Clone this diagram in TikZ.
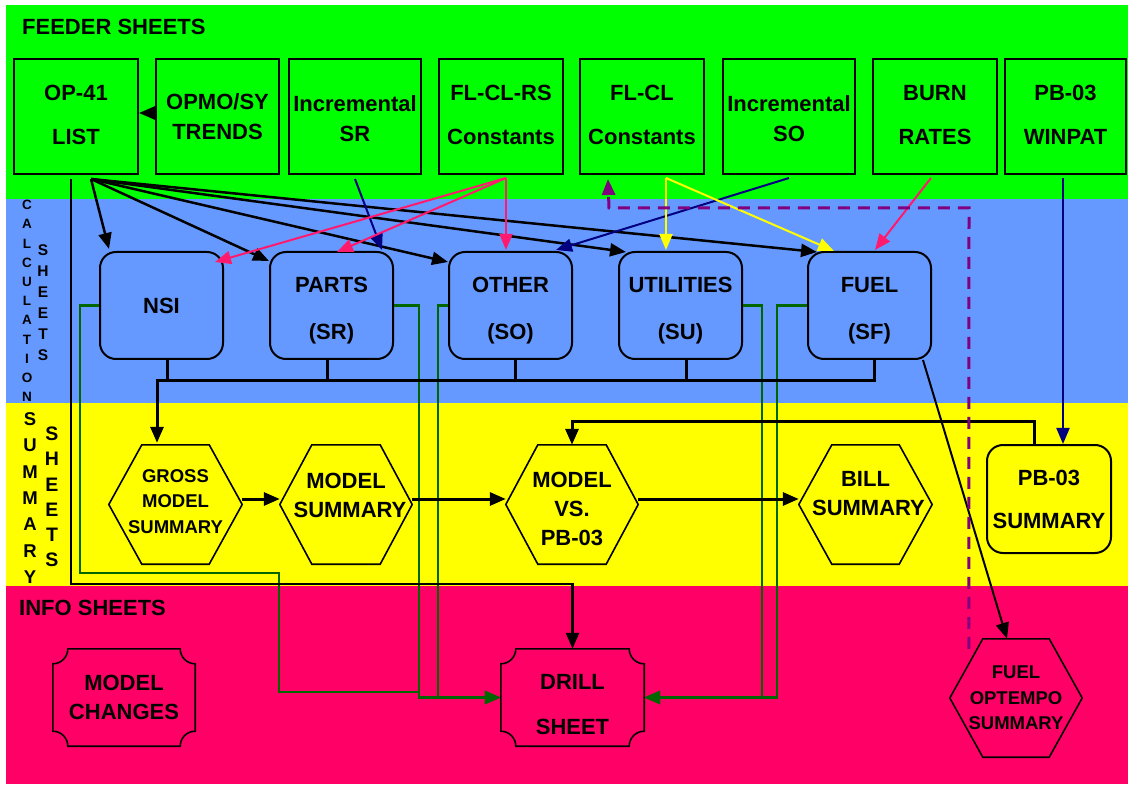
\documentclass[tikz,border=0pt]{standalone}
\usepackage{fontspec}
\setmainfont{Liberation Sans}
\usetikzlibrary{arrows.meta,calc}
\definecolor{bgreen}{HTML}{00FF00}
\definecolor{bblue}{HTML}{6699FF}
\definecolor{byellow}{HTML}{FFFF00}
\definecolor{bpink}{HTML}{FF0066}
\definecolor{navyc}{HTML}{000080}
\definecolor{dgreen}{HTML}{006600}
\definecolor{purp}{HTML}{800080}
\definecolor{apink}{HTML}{FF1A6E}
\definecolor{ayellow}{HTML}{FFFF00}
\newcommand\htt[1]{\rule{0pt}{#1}}
\newcommand\dpt[1]{\rule[-#1]{0pt}{#1}}
\newcommand\hexoutline[2]{\draw[line width=1.6pt] ([xshift=#2]#1.north west) -- ([xshift=-#2]#1.north east) -- (#1.east) -- ([xshift=-#2]#1.south east) -- ([xshift=#2]#1.south west) -- (#1.west) -- cycle;}
\newcommand\plaqueoutline[2]{\draw[line width=1.6pt] ([xshift=#2]#1.north west) -- ([xshift=-#2]#1.north east) arc[start angle=180,end angle=270,radius=#2] -- ([yshift=#2]#1.south east) arc[start angle=90,end angle=180,radius=#2] -- ([xshift=#2]#1.south west) arc[start angle=0,end angle=90,radius=#2] -- ([yshift=-#2]#1.north west) arc[start angle=270,end angle=360,radius=#2] -- cycle;}
\begin{document}
\begin{tikzpicture}[x=1pt,y=1pt,
 every node/.style={inner sep=0pt, align=center},
 arr/.style={-{Triangle[length=16pt,width=13pt]}},
 blk/.style={line width=2.5pt, draw=black},
 fbox/.style={draw, line width=2pt, fill=bgreen, minimum width=124pt, minimum height=115pt, font=\bfseries\fontsize{22}{44}\selectfont},
 fbox2/.style={fbox, font=\bfseries\fontsize{22}{30}\selectfont},
 cbox/.style={draw, line width=2pt, fill=bblue, rounded corners=16pt, minimum width=123pt, minimum height=107pt, font=\bfseries\fontsize{22}{47}\selectfont},
 hexn/.style={minimum width=132pt, minimum height=119pt, font=\bfseries\fontsize{22}{29}\selectfont},
 plq/.style={minimum width=142pt, minimum height=97pt, font=\bfseries\fontsize{22}{29}\selectfont},
 ttl/.style={font=\bfseries\fontsize{22}{26}\selectfont},
 grn/.style={draw=dgreen, line width=2.8pt},
 colarr/.style={line width=2pt, arr},
]
\useasboundingbox (0,0) rectangle (1128,-786);
% bands
\fill[bgreen] (6,-5) rectangle (1128,-199);
\fill[bblue] (6,-199) rectangle (1128,-403);
\fill[byellow] (6,-403) rectangle (1128,-586);
\fill[bpink] (6,-586) rectangle (1128,-784);
% titles
\node[ttl, anchor=base west] (tfeed) at (22,-35) {FEEDER SHEETS};
\node[ttl, anchor=base west] (tinfo) at (19,-615) {INFO SHEETS};
\node[font=\bfseries\fontsize{13.5}{19.2}\selectfont] (vcalc) at (27,-301) {C\\A\\L\\C\\U\\L\\A\\T\\I\\O\\N};
\node[font=\bfseries\fontsize{15.5}{21}\selectfont] (vcsh) at (43,-302.5) {S\\H\\E\\E\\T\\S};
\node[font=\bfseries\fontsize{18.5}{26.3}\selectfont] (vsum) at (30,-498) {S\\U\\M\\M\\A\\R\\Y};
\node[font=\bfseries\fontsize{19.5}{25.2}\selectfont] (vssh) at (52,-497) {S\\H\\E\\E\\T\\S};
% feeder boxes
\node[fbox] (op41) at (76,-116.5) {OP-41\\LIST\dpt{4pt}};
\node[fbox2, minimum width=123pt] (opmo) at (217.5,-116.5) {OPMO/SY\\TRENDS};
\node[fbox2, minimum width=132pt] (incsr) at (355,-116.5) {\htt{21pt}Incremental\\SR};
\node[fbox] (flclrs) at (501,-116.5) {FL-CL-RS\\Constants\dpt{4pt}};
\node[fbox] (flcl) at (642,-116.5) {FL-CL\\Constants\dpt{4pt}};
\node[fbox2, minimum width=132pt] (incso) at (789,-116.5) {\htt{21pt}Incremental\\SO};
\node[fbox] (burn) at (935,-116.5) {BURN\\RATES\dpt{4pt}};
\node[fbox, minimum width=121pt] (winpat) at (1065.5,-116.5) {PB-03\\WINPAT\dpt{4pt}};
% calculation boxes
\node[cbox] (nsi) at (161.5,-305.5) {NSI};
\node[cbox] (parts) at (331.5,-305.5) {\htt{26pt}PARTS\\(SR)};
\node[cbox] (other) at (510.5,-305.5) {\htt{26pt}OTHER\\(SO)};
\node[cbox] (util) at (680.5,-305.5) {\htt{26pt}UTILITIES\\(SU)};
\node[cbox] (fuel) at (869.5,-305.5) {\htt{26pt}FUEL\\(SF)};
% summary
\node[hexn, minimum width=133pt, font=\bfseries\fontsize{18.5}{25.5}\selectfont] (gross) at (175.5,-504.5) {GROSS\\MODEL\\SUMMARY\dpt{6pt}};
\node[hexn] (msum) at (346,-504.5) {MODEL\\\hspace*{8pt}SUMMARY\dpt{19pt}};
\node[hexn] (mvs) at (572,-504.5) {\htt{25pt}MODEL\\VS.\\PB-03};
\node[hexn, minimum width=133pt] (bill) at (865.5,-504.5) {BILL\\\hspace*{6pt}SUMMARY\dpt{22pt}};
\node[cbox, fill=byellow, minimum width=124pt, minimum height=108pt, font=\bfseries\fontsize{22}{43}\selectfont] (pbsum) at (1049,-499) {PB-03\\SUMMARY};
\hexoutline{gross}{33pt}
\hexoutline{msum}{32pt}
\hexoutline{mvs}{32pt}
\hexoutline{bill}{33pt}
% info
\node[plq] (mchg) at (124,-697.5) {MODEL\\CHANGES};
\node[plq, minimum width=143pt, font=\bfseries\fontsize{22}{45}\selectfont] (drill) at (572.5,-697.5) {\htt{30pt}DRILL\\SHEET};
\node[hexn, minimum height=118pt, font=\bfseries\fontsize{18.5}{25.5}\selectfont] (fopt) at (1016,-698) {FUEL\\OPTEMPO\\SUMMARY};
\plaqueoutline{mchg}{15pt}
\plaqueoutline{drill}{15pt}
\hexoutline{fopt}{33pt}
% green connectors to drill sheet
\draw[grn] (nsi.west) -- ++(-19,0) |- (279,-573) |- (419,-692);
\draw[grn, arr] (parts.east) -| (419,-697.5) -- (drill.west);
\draw[grn, arr] (other.west) -| (438,-697.5) -- (drill.west);
\draw[grn, arr] (util.east) -| (762,-697.5) -- (drill.east);
\draw[grn, arr] (fuel.west) -| (777,-697.5) -- (drill.east);
% OPMO -> OP-41
\draw[blk, arr] ([yshift=3.5pt]opmo.west) -- ([yshift=3.5pt]op41.east);
% OP-41 fan
\coordinate (o41) at ([xshift=15pt,yshift=-4pt]op41.south);
\draw[blk, arr] (o41) -- ([xshift=10pt,yshift=2pt]nsi.north west);
\draw[blk, arr] (o41) -- ([yshift=-10pt]parts.north west);
\draw[blk, arr] (o41) -- ([yshift=-11pt]other.north west);
\draw[blk, arr] (o41) -- ([xshift=8pt,yshift=-1pt]util.north west);
\draw[blk, arr] (o41) -- ([xshift=10pt,yshift=-1pt]fuel.north west);
\draw[blk, arr] ([xshift=-5pt,yshift=-4pt]op41.south) -- (71,-584) -| (drill.north);
% navy
\draw[navyc, colarr] ([yshift=-4pt]incsr.south) -- ([xshift=-12pt,yshift=1pt]parts.north east);
\draw[navyc, colarr] ([yshift=-3pt]incso.south) -- ([xshift=-17pt,yshift=1pt]other.north east);
\draw[navyc, colarr] ([xshift=-2.5pt,yshift=-3pt]winpat.south) -- ([xshift=14pt]pbsum.north);
% pink
\coordinate (frs) at ([xshift=5pt,yshift=-3pt]flclrs.south);
\draw[apink, colarr] (frs) -- ([xshift=-9pt,yshift=-11pt]nsi.north east);
\draw[apink, colarr] (frs) -- ([xshift=5.5pt,yshift=-1pt]parts.north);
\draw[apink, colarr] (frs) -- ([xshift=-4.5pt,yshift=1pt]other.north);
\draw[apink, colarr] ([xshift=-4pt,yshift=-3pt]burn.south) -- ([xshift=5.5pt,yshift=1pt]fuel.north);
% yellow
\coordinate (fcl) at ([xshift=24pt,yshift=-3pt]flcl.south);
\draw[ayellow, colarr] (fcl) -- ([xshift=-14.5pt,yshift=1pt]util.north);
\draw[ayellow, colarr] (fcl) -- ([xshift=27pt]fuel.north west);
% bus
\draw[blk, line width=3pt] ([xshift=5.5pt]nsi.south) -- ++(0,-22);
\draw[blk, line width=3pt] ([xshift=-4.5pt]parts.south) -- ++(0,-22);
\draw[blk, line width=3pt] ([xshift=4.5pt]other.south) -- ++(0,-22);
\draw[blk, line width=3pt] ([xshift=5.5pt]util.south) -- ++(0,-22);
\draw[blk, line width=3pt, arr] ([xshift=4.5pt]fuel.south) |- (157,-381) -- ([xshift=-18.5pt,yshift=2pt]gross.north);
% summary flow
\draw[blk, line width=3pt, arr] ([yshift=5.5pt]gross.east) -- ([yshift=5.5pt]msum.west);
\draw[blk, line width=3pt, arr] ([yshift=5.5pt]msum.east) -- ([yshift=5.5pt]mvs.west);
\draw[blk, line width=3pt, arr] ([yshift=5.5pt]mvs.east) -- ([yshift=5.5pt]bill.west);
\draw[blk, line width=3pt, arr] ([xshift=-15pt]pbsum.north) -- ++(0,22) -| (mvs.north);
% fuel -> fuel optempo
\draw[blk, line width=2pt, arr] ([xshift=-9pt]fuel.south east) -- ([xshift=-9pt]fopt.north);
% purple dashed
\draw[purp, line width=3pt, dash pattern=on 12pt off 8pt, arr] ([xshift=19pt,yshift=-10pt]fopt.north west) -- (969,-208) -- (609,-208) -- ([xshift=29pt,yshift=-4pt]flcl.south west);
\end{tikzpicture}
\end{document}
